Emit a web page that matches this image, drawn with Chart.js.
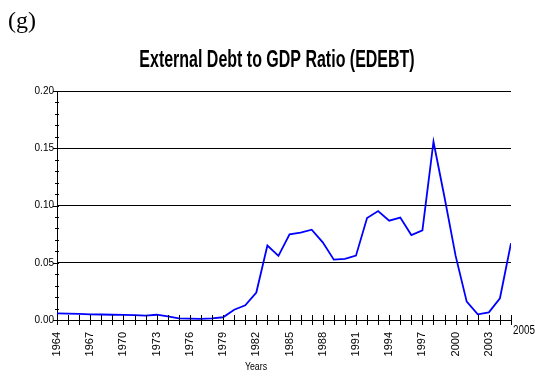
<!DOCTYPE html>
<html>
<head>
<meta charset="utf-8">
<script src="https://cdn.jsdelivr.net/npm/chart.js@4.4.1/dist/chart.umd.min.js"></script>
<style>
  html, body { margin: 0; padding: 0; background: #fff; }
  #wrap { width: 535px; height: 382px; }
</style>
</head>
<body>
<div id="wrap"><canvas id="edebtChart" width="535" height="382"></canvas></div>
<script>
// Years on the x axis
const years = [1964, 1965, 1966, 1967, 1968, 1969, 1970, 1971, 1972, 1973,
  1974, 1975, 1976, 1977, 1978, 1979, 1980, 1981, 1982, 1983,
  1984, 1985, 1986, 1987, 1988, 1989, 1990, 1991, 1992, 1993,
  1994, 1995, 1996, 1997, 1998, 1999, 2000, 2001, 2002, 2003,
  2004, 2005];

// External debt / GDP
const edebt = [0.0058, 0.0056, 0.0053, 0.0050, 0.0048, 0.0046, 0.0044, 0.0042, 0.0038, 0.0046,
  0.0032, 0.0015, 0.0012, 0.0009, 0.0015, 0.0024, 0.0090, 0.0128, 0.0240, 0.0650,
  0.0560, 0.0748, 0.0763, 0.0789, 0.0678, 0.0527, 0.0533, 0.0562, 0.0891, 0.0952,
  0.0867, 0.0894, 0.0742, 0.0783, 0.1557, 0.1070, 0.0560, 0.0160, 0.0050, 0.0067,
  0.0190, 0.0670];

const yTicks = [0, 0.05, 0.10, 0.15, 0.20];
const chartTitle = 'External Debt to GDP Ratio (EDEBT)';
const panelTag = '(g)';
const xTitle = 'Years';

const SANS = "'Liberation Sans', Arial, sans-serif";

// draw text squeezed sideways, the original uses a narrow face
function narrowText(ctx, text, x, y, squeeze) {
  ctx.save();
  ctx.translate(x, y);
  ctx.scale(squeeze, 1);
  ctx.fillText(text, 0, 0);
  ctx.restore();
}

// ticks crossing the axes, labels that chart.js can't place the same way
const decorations = {
  id: 'decorations',
  afterDraw(chart) {
    const ctx = chart.ctx;
    const xs = chart.scales.x;
    const ys = chart.scales.y;
    const area = chart.chartArea;
    ctx.save();
    ctx.strokeStyle = '#000';
    ctx.lineWidth = 1;

    // yearly ticks on the x axis
    years.forEach(yr => {
      const px = Math.round(xs.getPixelForValue(yr)) + 0.5;
      ctx.beginPath();
      ctx.moveTo(px, area.bottom - 5);
      ctx.lineTo(px, area.bottom + 5);
      ctx.stroke();
    });

    // minor ticks on the y axis every 0.01
    for (let i = 0; i <= 20; i++) {
      const py = Math.round(ys.getPixelForValue(i / 100)) + 0.5;
      const major = i % 5 === 0;
      ctx.beginPath();
      ctx.moveTo(area.left - (major ? 4 : 2), py);
      ctx.lineTo(area.left + 2, py);
      ctx.stroke();
    }

    ctx.fillStyle = '#000';
    // last year label, written flat
    ctx.font = '12px ' + SANS;
    ctx.textAlign = 'left';
    ctx.textBaseline = 'middle';
    narrowText(ctx, String(years[years.length - 1]), xs.getPixelForValue(2005) + 2, 331, 0.82);

    // axis title
    ctx.font = '11px ' + SANS;
    ctx.textAlign = 'center';
    narrowText(ctx, xTitle, 256, 367, 0.8);

    // panel tag
    ctx.font = "24px 'Liberation Serif', 'Times New Roman', serif";
    ctx.textAlign = 'left';
    ctx.textBaseline = 'alphabetic';
    ctx.fillText(panelTag, 8, 28);

    // condensed bold title
    ctx.font = 'bold 23px ' + SANS;
    ctx.textAlign = 'center';
    ctx.textBaseline = 'alphabetic';
    narrowText(ctx, chartTitle, 277, 66.5, 0.695);
    ctx.restore();
  }
};

const ctx = document.getElementById('edebtChart').getContext('2d');
new Chart(ctx, {
  type: 'line',
  data: {
    datasets: [{
      label: 'EDEBT',
      data: years.map((yr, i) => ({ x: yr, y: edebt[i] })),
      borderColor: '#0000ff',
      borderWidth: 1.8,
      pointRadius: 0,
      tension: 0,
      fill: false
    }]
  },
  options: {
    responsive: false,
    animation: false,
    layout: { padding: { top: 91, right: 24, bottom: 0, left: 0 } },
    plugins: {
      legend: { display: false },
      tooltip: { enabled: false },
      title: { display: false }
    },
    scales: {
      x: {
        type: 'linear',
        min: 1964,
        max: 2005,
        afterFit(scale) { scale.height = 62; },
        grid: { display: false },
        border: { display: true, color: '#000', width: 1 },
        ticks: {
          stepSize: 1,
          autoSkip: false,
          maxRotation: 90,
          minRotation: 90,
          padding: 4,
          color: '#000',
          font: { family: SANS, size: 11 },
          callback: v => ((v - 1964) % 3 === 0 && v < 2005) ? String(v) : ''
        }
      },
      y: {
        min: 0,
        max: 0.2,
        afterFit(scale) { scale.width = 57; },
        afterBuildTicks(scale) { scale.ticks = yTicks.map(v => ({ value: v })); },
        grid: {
          drawTicks: false,
          color: c => (c.tick && c.tick.value === 0) ? 'rgba(0,0,0,0)' : '#000',
          lineWidth: 1
        },
        border: { display: true, color: '#000', width: 1 },
        ticks: {
          padding: 3,
          color: '#000',
          font: { family: SANS, size: 10 },
          callback: v => v.toFixed(2)
        }
      }
    }
  },
  plugins: [decorations]
});
</script>
</body>
</html>
